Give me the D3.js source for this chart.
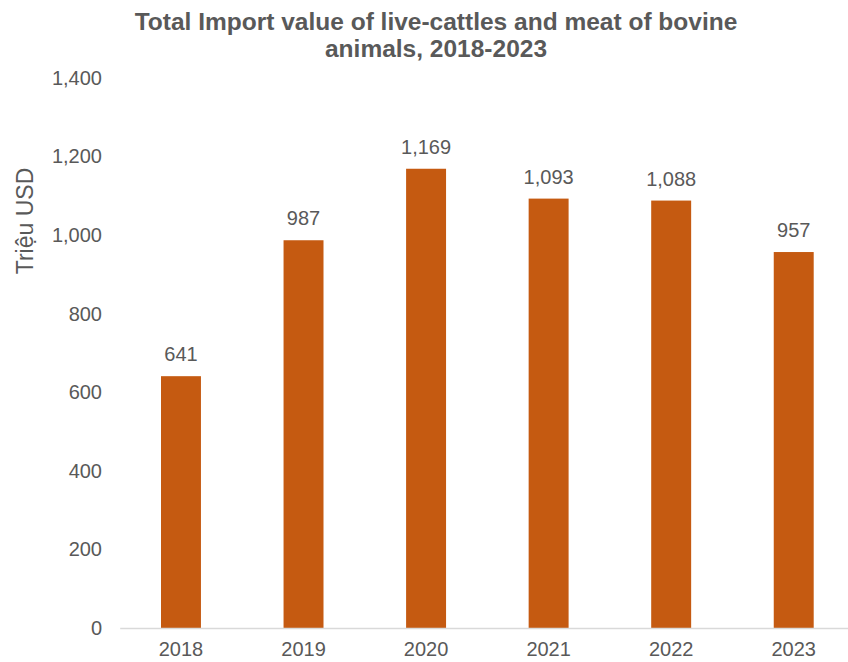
<!DOCTYPE html>
<html><head><meta charset="utf-8">
<script src="https://cdn.jsdelivr.net/npm/d3@7"></script>
<style>body{margin:0;background:#fff}svg{display:block}</style>
</head><body><svg id="c" width="848" height="662"></svg>
<script>
const categories = ["2018","2019","2020","2021","2022","2023"];
const values = [641, 987, 1169, 1093, 1088, 957];
const yTicks = [0, 200, 400, 600, 800, 1000, 1200, 1400];
const titleLines = ["Total Import value of live-cattles and meat of bovine", "animals, 2018-2023"];
const yLabel = "Triệu USD";

const svg = d3.select("#c");
const font = "'Liberation Sans', Arial, sans-serif";
const textCol = "#595959";
const x = d3.scaleBand().domain(categories).range([119.7, 855]).paddingInner(0.674).paddingOuter(0.337);
const y = d3.scaleLinear().domain([0, 1400]).range([628, 78]);

svg.append("g").selectAll("text").data(titleLines).join("text")
  .attr("x", 436).attr("y", (d,i)=>30 + i*27)
  .attr("text-anchor","middle").attr("font-family",font).attr("font-weight","bold")
  .attr("font-size",24.5).attr("fill",textCol).text(d=>d);

const yAxis = svg.append("g").attr("transform","translate(102,0)")
  .call(d3.axisLeft(y).tickValues(yTicks).tickSize(0).tickPadding(0).tickFormat(d3.format(",")));
yAxis.select(".domain").remove();
yAxis.selectAll("text").attr("font-family",font).attr("font-size",20).attr("fill",textCol);

svg.append("text").attr("transform","translate(33,221) rotate(-90)")
  .attr("text-anchor","middle").attr("font-family",font).attr("font-size",23).attr("fill",textCol).text(yLabel);

svg.append("g").selectAll("rect").data(values).join("rect")
  .attr("x",(d,i)=>x(categories[i])).attr("width",x.bandwidth())
  .attr("y",d=>y(d)).attr("height",d=>y(0)-y(d)).attr("fill","#C55A11");

const xAxis = svg.append("g").attr("transform","translate(0,628)")
  .call(d3.axisBottom(x).tickSize(0).tickPadding(14));
xAxis.select(".domain").attr("stroke","#d9d9d9").attr("stroke-width",1.5);
xAxis.selectAll("text").attr("font-family",font).attr("font-size",20).attr("fill",textCol);

svg.append("g").selectAll("text").data(values).join("text")
  .attr("x",(d,i)=>x(categories[i])+x.bandwidth()/2).attr("y",d=>y(d)-15)
  .attr("text-anchor","middle").attr("font-family",font).attr("font-size",20).attr("fill",textCol)
  .text(d=>d3.format(",")(d));
</script></body></html>
